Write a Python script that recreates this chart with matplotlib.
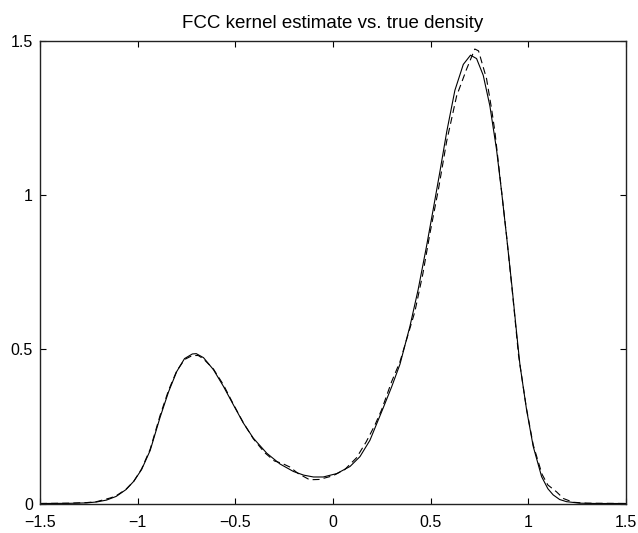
import matplotlib
matplotlib.use("Agg")
import matplotlib.pyplot as plt

plt.rcParams['font.family'] = ['Liberation Sans', 'DejaVu Sans']
plt.rcParams['lines.scale_dashes'] = False

# True density (solid)
x_true = [-1.5, -1.35, -1.26, -1.21, -1.16, -1.11, -1.06, -1.02, -0.98, -0.936,
          -0.885, -0.842, -0.80, -0.76, -0.72, -0.70, -0.663, -0.612, -0.561, -0.51,
          -0.459, -0.408, -0.339, -0.271, -0.203, -0.15, -0.10, -0.05, 0.019, 0.087,
          0.138, 0.189, 0.257, 0.30, 0.343, 0.394, 0.436, 0.479, 0.513, 0.547,
          0.582, 0.624, 0.667, 0.704, 0.735, 0.769, 0.803, 0.837, 0.863, 0.888,
          0.916, 0.936, 0.957, 0.991, 1.025, 1.068, 1.10, 1.127, 1.16, 1.195,
          1.263, 1.35, 1.5]
y_true = [0.0, 0.0005, 0.002, 0.005, 0.011, 0.023, 0.045, 0.072, 0.11, 0.172,
          0.28, 0.362, 0.428, 0.47, 0.485, 0.486, 0.473, 0.434, 0.38, 0.32,
          0.261, 0.212, 0.163, 0.128, 0.104, 0.092, 0.086, 0.086, 0.097, 0.12,
          0.152, 0.205, 0.31, 0.378, 0.452, 0.575, 0.694, 0.835, 0.954, 1.075,
          1.205, 1.34, 1.424, 1.454, 1.443, 1.389, 1.29, 1.149, 1.012, 0.87,
          0.705, 0.578, 0.45, 0.304, 0.185, 0.087, 0.048, 0.028, 0.013, 0.006,
          0.001, 0.0, 0.0]

# FCC kernel estimate (dashed)
x_est = [-1.5, -1.35, -1.26, -1.21, -1.14, -1.11, -1.06, -1.02, -0.98, -0.936,
         -0.885, -0.842, -0.80, -0.76, -0.72, -0.69, -0.663, -0.612, -0.561, -0.51,
         -0.459, -0.408, -0.35, -0.30, -0.26, -0.22, -0.18, -0.12, -0.07, 0.0,
         0.06, 0.12, 0.17, 0.215, 0.249, 0.30, 0.343, 0.39, 0.419, 0.46,
         0.496, 0.54, 0.582, 0.633, 0.684, 0.726, 0.745, 0.786, 0.812, 0.829,
         0.86, 0.89, 0.92, 0.95, 0.99, 1.025, 1.07, 1.10, 1.144, 1.18,
         1.23, 1.3, 1.5]
y_est = [0.0, 0.001, 0.003, 0.006, 0.018, 0.025, 0.046, 0.072, 0.112, 0.176,
         0.286, 0.367, 0.43, 0.467, 0.48, 0.48, 0.469, 0.436, 0.385, 0.322,
         0.262, 0.21, 0.165, 0.138, 0.13, 0.118, 0.098, 0.077, 0.078, 0.09,
         0.11, 0.148, 0.2, 0.255, 0.304, 0.395, 0.46, 0.56, 0.622, 0.745,
         0.875, 1.02, 1.175, 1.322, 1.409, 1.474, 1.468, 1.378, 1.279, 1.205,
         1.03, 0.86, 0.675, 0.48, 0.31, 0.19, 0.095, 0.06, 0.038, 0.016,
         0.004, 0.001, 0.0]

x_ticks = [-1.5, -1, -0.5, 0, 0.5, 1, 1.5]
x_ticklabels = ['\u22121.5', '\u22121', '\u22120.5', '0', '0.5', '1', '1.5']
y_ticks = [0, 0.5, 1, 1.5]
y_ticklabels = ['0', '0.5', '1', '1.5']
title = 'FCC kernel estimate vs. true density'

fig = plt.figure(figsize=(6.38, 5.33), dpi=100)
ax = fig.add_axes([40/638, (533-503.5)/533, (626-40)/638, (503.5-41)/533])

ax.plot(x_true, y_true, color='black', lw=0.8, solid_joinstyle='round')
ax.plot(x_est, y_est, color='black', lw=0.8, dashes=(5, 3))

ax.set_xlim(-1.5, 1.5)
ax.set_ylim(0, 1.5)
ax.set_xticks(x_ticks)
ax.set_xticklabels(x_ticklabels)
ax.set_yticks(y_ticks)
ax.set_yticklabels(y_ticklabels)
ax.tick_params(direction='in', length=4, width=0.8, top=True, right=True,
               labelsize=11.5, colors='black')
ax.tick_params(axis='x', pad=8)
ax.tick_params(axis='y', pad=5)
for s in ax.spines.values():
    s.set_linewidth(1.0)
    s.set_color('#222222')
ax.set_title(title, fontsize=13.5, pad=9)

fig.savefig('out.png', dpi=100)
